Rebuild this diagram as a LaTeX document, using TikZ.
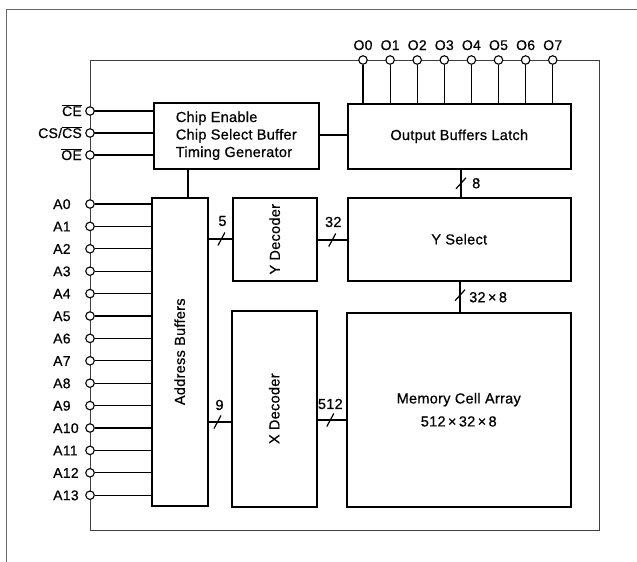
\documentclass[tikz,border=0pt]{standalone}
\usepackage{fontspec}
\setmainfont{Liberation Sans}[LetterSpace=2,FakeBold=0.6]
\begin{document}
\begin{tikzpicture}[x=1pt,y=-1pt,
  blk/.style={draw, line width=1.5pt, inner sep=0pt, anchor=north west,
    font=\fontsize{14.5}{17.5}\selectfont},
  conn/.style={line width=1.2pt},
  frame/.style={line width=0.7pt, draw=black!75},
  outerframe/.style={line width=0.7pt, draw=black!60},
  pinc/.style={circle, draw, fill=white, line width=1.1pt, minimum size=8.5pt, inner sep=0pt},
  lbl/.style={font=\fontsize{14}{16}\selectfont, inner sep=0pt},
  num/.style={font=\fontsize{14.5}{16}\selectfont, inner sep=0pt}]
\useasboundingbox (0,0) rectangle (637,562);
\fill[white] (0,0) rectangle (637,562);
% outer border
\draw[outerframe] (6,575) -- (6,9) -- (650,9);
% chip boundary
\coordinate (fTL) at (90,60);
\coordinate (fBR) at (599,530);
\draw[frame] (fTL) rectangle (fBR);

% blocks
\node[blk, minimum width=165pt, minimum height=66pt, align=left] (ce) at (153,102)
  {Chip Enable\\Chip Select Buffer\\Timing Generator};
\node[blk, minimum width=223pt, minimum height=65pt] (ob) at (347,103) {Output Buffers Latch};
\node[blk, minimum width=56pt, minimum height=308pt] (ab) at (151,197) {};
\node[font=\fontsize{14.5}{17.5}\selectfont, rotate=90] at (ab.center) {Address Buffers};
\node[blk, minimum width=84pt, minimum height=83pt] (yd) at (232,197) {};
\node[font=\fontsize{14.5}{17.5}\selectfont, rotate=90] at (yd.center) {Y Decoder};
\node[blk, minimum width=223pt, minimum height=83pt] (ys) at (347,197) {Y Select};
\node[blk, minimum width=85pt, minimum height=196pt] (xd) at (231,310) {};
\node[font=\fontsize{14.5}{17.5}\selectfont, rotate=90] at (xd.center) {X Decoder};
\node[blk, minimum width=224pt, minimum height=194pt, align=center,
  font=\fontsize{14.5}{23}\selectfont] (mem) at (346,312) {Memory Cell Array\\512\,×\,32\,×\,8};

% internal connections
\draw[conn] (ce.south -| 188,0) -- (ab.north -| 188,0);
\draw[conn] (ce.east |- 0,135) -- (ob.west |- 0,135);
\draw[conn] (ob.south -| 461,0) -- coordinate (s8) (ys.north -| 461,0);
\draw[conn] (ys.south -| 460,0) -- coordinate[pos=0.45] (s328) (mem.north -| 460,0);
\draw[conn] (ab.east |- 0,239) -- coordinate[pos=0.55] (s5) (yd.west |- 0,239);
\draw[conn] (yd.east |- 0,240) -- coordinate[pos=0.5] (s32) (ys.west |- 0,240);
\draw[conn] (ab.east |- 0,422) -- coordinate[pos=0.4] (s9) (xd.west |- 0,422);
\draw[conn] (xd.east |- 0,420) -- coordinate[pos=0.45] (s512) (mem.west |- 0,420);

% bus slashes
\foreach \s in {s5,s32,s9,s512}
  \draw[conn] ([shift={(-3.5,6.5)}]\s) -- ([shift={(3.5,-6.5)}]\s);
\foreach \s in {s8,s328}
  \draw[conn] ([shift={(-5,5.5)}]\s) -- ([shift={(5,-5.5)}]\s);

% bus widths
\node[num] at ([shift={(1,-18)}]s5) {5};
\node[num] at ([shift={(1,-18)}]s32) {32};
\node[num] at ([shift={(2,-17)}]s9) {9};
\node[num] at ([shift={(0,-16)}]s512) {512};
\node[num, anchor=west] at ([shift={(11,0)}]s8) {8};
\node[num, anchor=west] at ([shift={(9,2)}]s328) {32\,×\,8};

% control pins
\foreach \n/\y/\t in {pce/111/{$\overline{\mbox{CE}}$},
                      pcs/133/{CS/$\overline{\mbox{CS}}$},
                      poe/155/{$\overline{\mbox{OE}}$}} {
  \draw[conn, line width=1.5pt] (90,\y) -- (ce.west |- 0,\y);
  \node[pinc] (\n) at (90,\y) {};
  \node[lbl, anchor=base east] at ([shift={(-8,5)}]\n.center) {\t};
}

% address pins
\foreach \i in {0,...,13} {
  \pgfmathsetmacro{\yy}{204+22.4*\i}
  \node[pinc] (pA\i) at (90,\yy) {};
  \draw[conn] (pA\i.east) -- (pA\i -| ab.west);
  \node[lbl, anchor=base west] at (53,\yy+5) {A\i};
}

% output pins
\foreach \i in {0,...,7} {
  \pgfmathsetmacro{\xx}{363+27.1*\i}
  \node[pinc] (pO\i) at (\xx,60) {};
  \draw[conn] (pO\i.south) -- (pO\i |- ob.north);
  \node[lbl, anchor=base] at (\xx,50) {O\i};
}
\end{tikzpicture}
\end{document}
